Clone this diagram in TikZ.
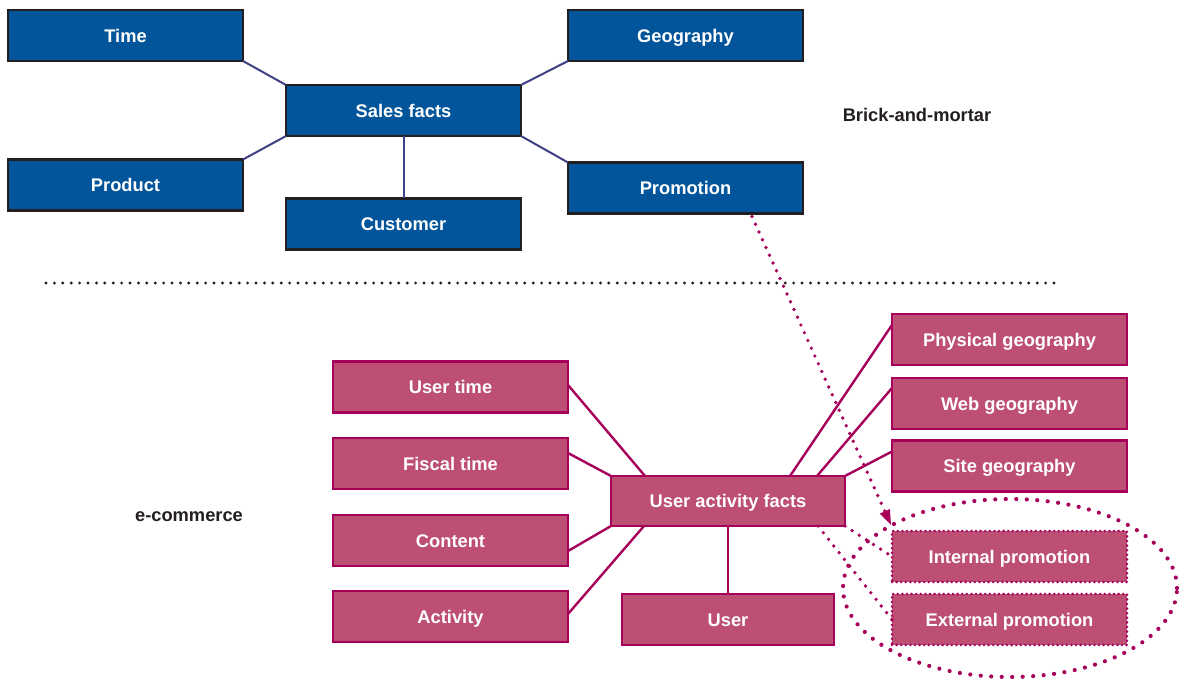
\documentclass[tikz,border=0pt]{standalone}
\usepackage{fontspec}
\setmainfont{Liberation Sans}
\usetikzlibrary{calc,arrows.meta}
\definecolor{bluefill}{HTML}{02559A}
\definecolor{blueline}{HTML}{3E4083}
\definecolor{boxedge}{HTML}{231F20}
\definecolor{pinkfill}{HTML}{BC4F73}
\definecolor{pinkedge}{HTML}{A6005B}
\definecolor{labeltext}{HTML}{231F20}
\tikzset{
  bluebox/.style={rectangle, draw=boxedge, fill=bluefill, line width=2.4pt,
    minimum width=235pt, minimum height=51pt, inner sep=0pt, outer sep=0pt,
    text height=13.2pt, text depth=0pt,
    text=white, font=\fontsize{18.3}{20}\selectfont\bfseries},
  pinkbox/.style={rectangle, draw=pinkedge, fill=pinkfill, line width=2.4pt,
    minimum width=235pt, minimum height=51pt, inner sep=0pt, outer sep=0pt,
    text height=13.2pt, text depth=0pt,
    text=white, font=\fontsize{18.3}{20}\selectfont\bfseries},
  dotbox/.style={pinkbox, dash pattern=on 0pt off 4.6pt, line cap=round, line width=2.8pt},
  blueconn/.style={draw=blueline, line width=2pt},
  pinkconn/.style={draw=pinkedge, line width=2.4pt},
  dotconn/.style={draw=pinkedge, line width=3.7pt, line cap=round, dash pattern=on 0pt off 8.5pt},
  sidelabel/.style={text=labeltext, font=\fontsize{18.3}{20}\selectfont\bfseries, inner sep=0pt},
}
\begin{document}
\begin{tikzpicture}[x=1pt,y=-1pt]
\useasboundingbox (0,0) rectangle (1180,679);
% top part
\node[bluebox] (time) at (125.5,35.5) {Time};
\node[bluebox] (geo) at (685.5,35.5) {Geography};
\node[bluebox] (sales) at (403.5,110.5) {Sales facts};
\node[bluebox] (product) at (125.5,185) {Product};
\node[bluebox] (customer) at (403.5,224) {Customer};
\node[bluebox] (promo) at (685.5,188) {Promotion};
\node[sidelabel] (brick) at (917,115) {Brick-and-mortar};
\draw[blueconn] (time.south east) -- (sales.north west);
\draw[blueconn] (geo.south west) -- (sales.north east);
\draw[blueconn] (product.north east) -- (sales.south west);
\draw[blueconn] (promo.north west) -- (sales.south east);
\draw[blueconn] (customer.north) -- (sales.south);
% separator
\coordinate (sepL) at (46,283);
\coordinate (sepR) at (1058,283);
\draw[line width=3.2pt, line cap=round, dash pattern=on 0pt off 8.4pt, draw=boxedge] (sepL) -- (sepR);
% bottom part
\node[pinkbox] (utime) at (450.5,387) {User time};
\node[pinkbox] (fiscal) at (450.5,463.5) {Fiscal time};
\node[pinkbox] (content) at (450.5,540.5) {Content};
\node[pinkbox] (activity) at (450.5,616.5) {Activity};
\node[pinkbox, minimum width=234pt, minimum height=50pt] (facts) at (728,501) {User activity facts};
\node[pinkbox, minimum width=212pt] (user) at (728,619.5) {User};
\node[pinkbox] (phys) at (1009.5,339.5) {Physical geography};
\node[pinkbox] (web) at (1009.5,403.5) {Web geography};
\node[pinkbox] (site) at (1009.5,466) {Site geography};
\node[dotbox] (intp) at (1009.5,556.5) {Internal promotion};
\node[dotbox] (extp) at (1009.5,619.5) {External promotion};
\node[sidelabel] (ecom) at (189,517) {e-commerce};
\draw[pinkconn] ($(utime.east)+(0,-2)$) -- ($(facts.north west)+(34,0)$);
\draw[pinkconn] ($(fiscal.north east)+(0,15)$) -- (facts.north west);
\draw[pinkconn] ($(content.north east)+(0,36)$) -- (facts.south west);
\draw[pinkconn] ($(activity.north east)+(0,23)$) -- ($(facts.south west)+(33,0)$);
\draw[pinkconn] ($(phys.north west)+(0,11)$) -- ($(facts.north west)+(179,0)$);
\draw[pinkconn] ($(web.north west)+(0,10)$) -- ($(facts.north west)+(206,0)$);
\draw[pinkconn] ($(site.north west)+(0,11)$) -- (facts.north east);
\draw[pinkconn] (facts.south) -- (user.north);
% promotion links
\draw[dotconn] (facts.south east) -- (intp.west);
\draw[dotconn] ($(facts.south east)+(-27,0)$) -- (extp.west);
\coordinate (arrowtip) at (891,525);
\coordinate (arrowtail) at ($(promo.south west)+(184,3)$);
\draw[dotconn] (arrowtail) -- ($(arrowtip)!14pt!(arrowtail)$);
\fill[pinkedge] (arrowtip) -- ($(arrowtip)!15pt!(arrowtail)!5.5pt!90:(arrowtail)$) -- ($(arrowtip)!15pt!(arrowtail)!5.5pt!-90:(arrowtail)$) -- cycle;
% ellipse grouping
\draw[draw=pinkedge, line width=4.2pt, line cap=round, dash pattern=on 0pt off 10.5pt] (1010,588) ellipse [x radius=167pt, y radius=89pt];
\end{tikzpicture}
\end{document}
